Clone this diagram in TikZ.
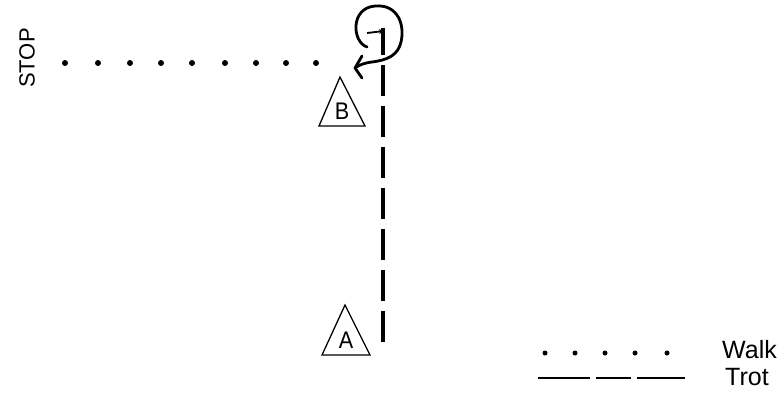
\documentclass[tikz,border=0pt]{standalone}
\usepackage{fontspec}
\setmainfont{Liberation Sans}
\usetikzlibrary{arrows.meta}
\begin{document}
\begin{tikzpicture}[x=1pt,y=-1pt,
  lbl/.style={font=\fontsize{24}{28}\selectfont, inner sep=0pt},
  leg/.style={font=\fontsize{25}{28}\selectfont, inner sep=0pt, anchor=west},
  walkdot/.style={fill=black, circle, inner sep=0pt, minimum size=6pt},
  trotline/.style={line width=3.2pt, dash pattern=on 31pt off 10pt},
  tri/.style={line width=1.3pt, line join=miter},
  hand/.style={line width=2.8pt, line cap=round, line join=round}]
\useasboundingbox (0,0) rectangle (783,392);
% STOP label
\node[lbl, font=\fontsize{22}{26}\selectfont, rotate=90] (stop) at (27,58) {STOP};
% walk dots
\foreach \x [count=\i] in {65,98,130,161,192,225,256,286,316}
  \node[walkdot] (w\i) at (\x,63) {};
% triangles
\coordinate (bT) at (340,77); \coordinate (bL) at (319,126); \coordinate (bR) at (365,126);
\draw[tri] (bT) -- (bL) -- (bR) -- cycle;
\node[lbl, xscale=0.9] (B) at (342,111) {B};
\coordinate (aT) at (345,305); \coordinate (aL) at (322,355); \coordinate (aR) at (370,355);
\draw[tri] (aT) -- (aL) -- (aR) -- cycle;
\node[lbl, xscale=0.9] (A) at (346,340) {A};
% trot line
\coordinate (t0) at (383,342);
\coordinate (t1) at (383,28);
\draw[trotline] (t0) -- (t1);
% small arrow at top
\coordinate (s0) at (367,33);
\coordinate (s1) at (384,31);
\draw[line width=1.8pt, -{Stealth[length=5pt,width=5pt]}] (s0) -- (s1);
% loop ending with arrow
\coordinate (l0) at (367,47);
\coordinate (l1) at (355,68);
\draw[hand] (l0) .. controls (352,42) and (350,8) .. (375,6)
  .. controls (398,4) and (405,25) .. (401,42)
  .. controls (398,55) and (388,60) .. (372,62)
  .. controls (364,63) and (359,65) .. (l1);
\coordinate (h1) at (362,56); \coordinate (h2) at (362,78);
\draw[hand] (h1) -- (l1) -- (h2);
% legend
\foreach \x [count=\i] in {545,575,605,635,667}
  \node[walkdot, minimum size=5pt] (lw\i) at (\x,353) {};
\node[leg] (walk) at (722,350) {Walk};
\coordinate (d0) at (538,378); \coordinate (d1) at (685,378);
\draw[line width=2.4pt, dash pattern=on 52pt off 6pt on 35pt off 6pt on 48pt off 6pt] (d0) -- (d1);
\node[leg] (trot) at (725,377) {Trot};
\end{tikzpicture}
\end{document}
